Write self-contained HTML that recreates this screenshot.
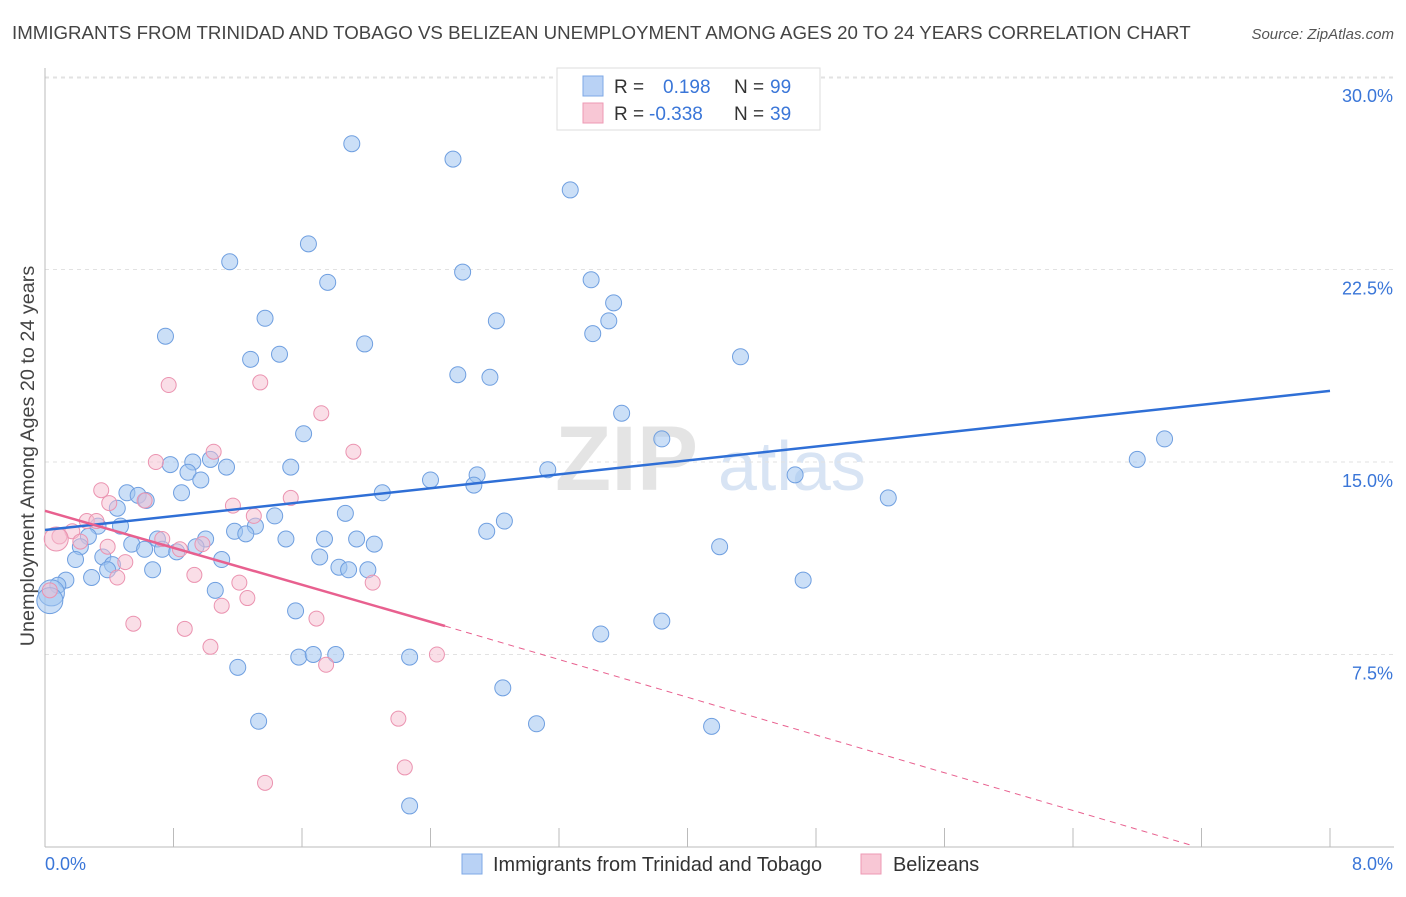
<!DOCTYPE html>
<html><head><meta charset="utf-8">
<style>
body{margin:0;background:#fff;font-family:"Liberation Sans",sans-serif;}
svg text{font-family:"Liberation Sans",sans-serif;}
</style></head>
<body>
<svg id="chart" width="1406" height="892" xmlns="http://www.w3.org/2000/svg">
<text x="12" y="39" font-size="18.7" fill="#444">IMMIGRANTS FROM TRINIDAD AND TOBAGO VS BELIZEAN UNEMPLOYMENT AMONG AGES 20 TO 24 YEARS CORRELATION CHART</text>
<text x="1394" y="39" font-size="15" fill="#555" font-style="italic" text-anchor="end">Source: ZipAtlas.com</text>
<g>
<text x="555" y="490" font-size="92" fill="#e4e4e4" font-family="Liberation Serif" font-weight="bold">ZIP</text>
<text x="718" y="490" font-size="70" fill="#d8e4f4">atlas</text>
</g>
<g id="grid"></g>
<g id="axes"></g>
<g id="marks"></g>
<text transform="translate(34,456) rotate(-90)" font-size="19.8" fill="#444" text-anchor="middle">Unemployment Among Ages 20 to 24 years</text>
<g>
<rect x="557" y="68" width="263" height="62" fill="#fff" stroke="#ddd"/>
<rect x="583" y="76" width="20" height="20" fill="#b9d2f5" stroke="#7ea8e6"/>
<rect x="583" y="103" width="20" height="20" fill="#f8c7d5" stroke="#ee9ab4"/>
<text x="614" y="93" font-size="19" fill="#333">R =</text><text x="663" y="93" font-size="19" fill="#3a76d8">0.198</text>
<text x="734" y="93" font-size="19" fill="#333">N =</text><text x="770" y="93" font-size="19" fill="#3a76d8">99</text>
<text x="614" y="120" font-size="19" fill="#333">R =</text><text x="649" y="120" font-size="19" fill="#3a76d8">-0.338</text>
<text x="734" y="120" font-size="19" fill="#333">N =</text><text x="770" y="120" font-size="19" fill="#3a76d8">39</text>
</g>
<g>
<rect x="462" y="854" width="20" height="20" fill="#b9d2f5" stroke="#7ea8e6"/>
<text x="493" y="871" font-size="19.9" fill="#333">Immigrants from Trinidad and Tobago</text>
<rect x="861" y="854" width="20" height="20" fill="#f8c7d5" stroke="#ee9ab4"/>
<text x="893" y="871" font-size="19.9" fill="#333">Belizeans</text>
</g>
</svg>
<script>
const xTicks=[0,0.8,1.6,2.4,3.2,4,4.8,5.6,6.4,7.2,8];
const yTicks=[7.5,15,22.5,30];
const yTickLabels=["7.5%","15.0%","22.5%","30.0%"];
const xEndLabels=["0.0%","8.0%"];
const blueX=[1.91,2.54,3.27,1.64,1.15,2.60,1.76,3.40,3.54,1.37,2.81,3.51,0.75,3.41,1.99,1.46,1.28,4.33,2.57,2.77,3.59,1.61,3.84,6.97,6.80,1.03,0.92,0.78,1.13,1.53,3.13,0.89,2.69,0.97,2.40,2.67,4.67,2.10,0.85,0.51,0.58,0.63,5.25,0.45,1.87,1.43,2.86,0.33,0.47,1.31,1.18,1.25,2.75,0.27,1.00,1.50,1.74,1.94,2.05,0.54,0.70,0.94,4.20,0.22,0.62,0.73,0.82,1.71,0.36,0.19,1.10,0.42,0.39,1.83,1.89,2.01,0.67,0.29,0.13,0.08,4.72,1.06,0.04,0.03,1.56,3.84,3.46,1.20,1.58,1.67,1.81,2.27,2.85,1.33,3.06,4.15,2.27];
const blueY=[27.4,26.8,25.6,23.5,22.8,22.4,22.0,22.1,21.2,20.6,20.5,20.5,19.9,20.0,19.6,19.2,19.0,19.1,18.4,18.3,16.9,16.1,15.9,15.9,15.1,15.1,15.0,14.9,14.8,14.8,14.7,14.6,14.5,14.3,14.3,14.1,14.5,13.8,13.8,13.8,13.7,13.5,13.6,13.2,13.0,12.9,12.7,12.5,12.5,12.5,12.3,12.2,12.3,12.1,12.0,12.0,12.0,12.0,11.8,11.8,12.0,11.7,11.7,11.7,11.6,11.6,11.5,11.3,11.3,11.2,11.2,11.0,10.8,10.9,10.8,10.8,10.8,10.5,10.4,10.2,10.4,10.0,9.9,9.6,9.2,8.8,8.3,7.0,7.4,7.5,7.5,7.4,6.2,4.9,4.8,4.7,1.6];
const pinkX=[0.77,1.34,1.72,1.05,1.92,0.69,0.35,1.53,1.17,0.40,0.62,1.30,0.26,0.32,0.17,0.09,0.73,0.22,0.39,0.84,0.98,0.50,0.45,0.93,1.21,2.04,0.03,1.26,1.10,1.69,0.55,0.87,1.03,2.44,1.75,2.20,2.24,1.37,0.07];
const pinkY=[18.0,18.1,16.9,15.4,15.4,15.0,13.9,13.6,13.3,13.4,13.5,12.9,12.7,12.7,12.3,12.1,12.0,11.9,11.7,11.6,11.8,11.1,10.5,10.6,10.3,10.3,10.0,9.7,9.4,8.9,8.7,8.5,7.8,7.5,7.1,5.0,3.1,2.5,12.0];
const blueTrendX=[0,8], blueTrendY=[12.35,17.77];
const pinkTrendX=[0,2.49], pinkTrendY=[13.1,8.61];
const pinkDashX=[2.49,7.13], pinkDashY=[8.61,0.08];

const X0=45,X1=1330,Y0=847,YPER=192.5/7.5;
const sx=v=>X0+(v/8)*(X1-X0);
const sy=v=>Y0-v*YPER;
const NS="http://www.w3.org/2000/svg";
function mk(parent,tag,attrs){const e=document.createElementNS(NS,tag);for(const k in attrs)e.setAttribute(k,attrs[k]);document.getElementById(parent).appendChild(e);return e;}

yTicks.forEach((t,i)=>{
 const g=mk('grid','line',{x1:X0,x2:1394,y1:sy(t),y2:sy(t),stroke:'#e2e2e2','stroke-dasharray':'4,4'});
 
 
 const l=mk('axes','text',{x:1393,y:sy(t)+25,'font-size':18,fill:'#3a76d8','text-anchor':'end'});
 l.textContent=yTickLabels[i];
 
 
});
const topGrid=mk('grid','line',{x1:X0,x2:1394,y1:78,y2:78,stroke:'#e2e2e2','stroke-dasharray':'4,4'});


const xa=mk('axes','line',{x1:X0,x2:1394,y1:Y0,y2:Y0,stroke:'#bbb'});


const ya=mk('axes','line',{x1:X0,x2:X0,y1:68,y2:Y0,stroke:'#bbb'});


xTicks.forEach(t=>{
 const e=mk('axes','line',{x1:sx(t),x2:sx(t),y1:828,y2:Y0,stroke:'#bbb'});
 
 
});
const xl0=mk('axes','text',{x:45,y:870,'font-size':18,fill:'#3a76d8'});xl0.textContent=xEndLabels[0];


const xl1=mk('axes','text',{x:1393,y:870,'font-size':18,fill:'#3a76d8','text-anchor':'end'});xl1.textContent=xEndLabels[1];



blueX.forEach((v,i)=>{
 const big=(v<0.05&&blueY[i]<10);
 const c=mk('marks','circle',{cx:sx(v),cy:sy(blueY[i]),r:big?13:8,fill:'rgba(160,196,240,0.55)',stroke:'#6f9fe0','stroke-width':1});
 
 
});
pinkX.forEach((v,i)=>{
 const big=(i===pinkX.length-1);
 const c=mk('marks','circle',{cx:sx(v),cy:sy(pinkY[i]),r:big?12:7.5,fill:'rgba(246,190,208,0.5)',stroke:'#eb93b0','stroke-width':1});
 
 
});
const bt=mk('marks','line',{x1:sx(blueTrendX[0]),y1:sy(blueTrendY[0]),x2:sx(blueTrendX[1]),y2:sy(blueTrendY[1]),stroke:'#2f6fd6','stroke-width':2.5});


const pt=mk('marks','line',{x1:sx(pinkTrendX[0]),y1:sy(pinkTrendY[0]),x2:sx(pinkTrendX[1]),y2:sy(pinkTrendY[1]),stroke:'#e8608f','stroke-width':2.5});


const pd=mk('marks','line',{x1:sx(pinkDashX[0]),y1:sy(pinkDashY[0]),x2:sx(pinkDashX[1]),y2:sy(pinkDashY[1]),stroke:'#e8608f','stroke-width':1,'stroke-dasharray':'6,5'});


</script>
</body></html>
